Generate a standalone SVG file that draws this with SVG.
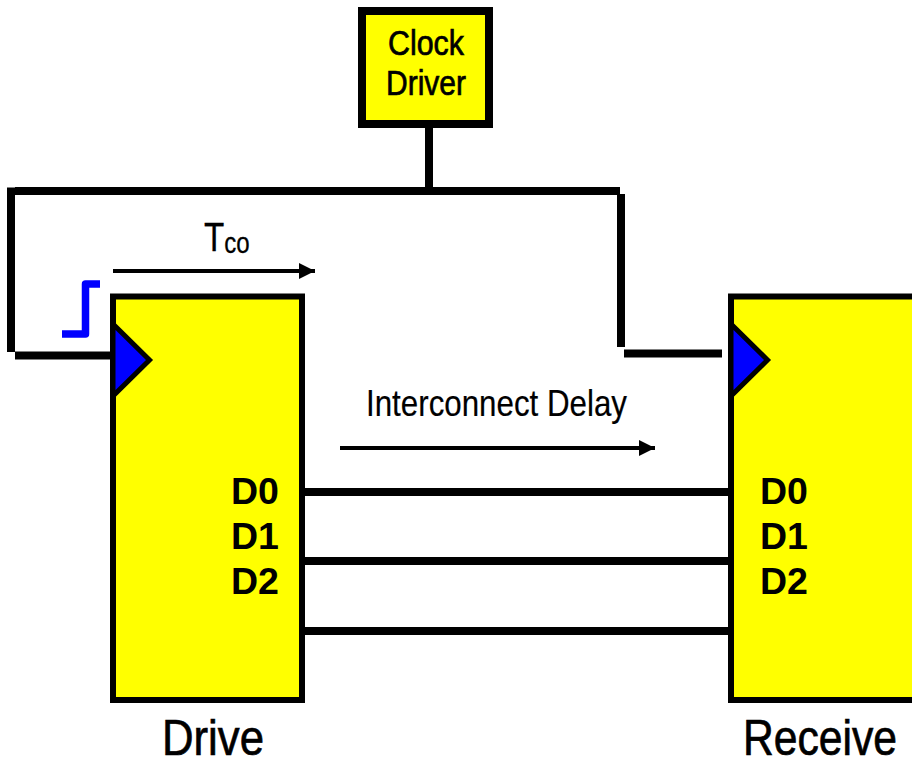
<svg xmlns="http://www.w3.org/2000/svg" width="912" height="761" viewBox="0 0 912 761">
<style>
.w{stroke:#000;stroke-width:8;fill:none}
.b{fill:#ffff00;stroke:#000;stroke-width:6}
.t{font-family:"Liberation Sans",Arial,sans-serif;fill:#000;stroke:#000;stroke-width:.7}
.d{font-family:"Liberation Sans",Arial,sans-serif;font-size:37.5px;font-weight:bold;fill:#000}
.a{stroke:#000;stroke-width:4;fill:none}
.tri{fill:#0000ff;stroke:#000;stroke-width:5}
</style>
<defs><marker id="ah" markerUnits="userSpaceOnUse" markerWidth="16" markerHeight="16" refX="16" refY="8" orient="auto"><path d="M0 0L16 8L0 16z" fill="#000"/></marker></defs>
<rect width="912" height="761" fill="#fff"/>
<g id="connectors">
<path class="w" d="M429 125V191M15 191H620M11 187.500V352M15 355.500H110M621 194V347M624 353.500H722"/>
<path class="w" d="M303 492H729M303 561H729M303 631H729"/>
<path d="M62 334H85.500V284H100" fill="none" stroke="#0000ff" stroke-width="7.500" stroke-linejoin="round"/>
<path class="a" d="M113 271H315" marker-end="url(#ah)"/>
<path class="a" d="M340 448H655" marker-end="url(#ah)"/>
</g>
<g id="clock-driver"><rect x="362" y="11" width="127" height="113" fill="#ffff00" stroke="#000" stroke-width="8"/>
<text class="t" x="388" y="55" font-size="35" textLength="76" lengthAdjust="spacingAndGlyphs">Clock</text>
<text class="t" x="386" y="95" font-size="35" textLength="80" lengthAdjust="spacingAndGlyphs">Driver</text></g>
<g id="drive"><rect class="b" x="113" y="296.500" width="189" height="403.500"/>
<path class="tri" d="M113 324L149.500 360L113 396z"/>
<text class="d" x="231" y="504">D0</text><text class="d" x="231" y="549">D1</text><text class="d" x="231" y="594">D2</text>
<text class="t" x="162" y="755" font-size="50" textLength="102" lengthAdjust="spacingAndGlyphs">Drive</text></g>
<g id="receive"><rect class="b" x="731" y="296.500" width="189" height="403.500"/>
<path class="tri" d="M731 324L767.500 360L731 396z"/>
<text class="d" x="760" y="504">D0</text><text class="d" x="760" y="549">D1</text><text class="d" x="760" y="594">D2</text>
<text class="t" x="743" y="755" font-size="50" textLength="154" lengthAdjust="spacingAndGlyphs">Receive</text></g>
<g id="labels">
<text class="t" transform="translate(204 251) scale(.83 1)" font-size="40" style="stroke-width:.3">T<tspan dy="2" font-size="29">co</tspan></text>
<text class="t" x="366" y="416" font-size="36" textLength="261" lengthAdjust="spacingAndGlyphs" style="stroke-width:.2">Interconnect Delay</text>
</g>
</svg>
